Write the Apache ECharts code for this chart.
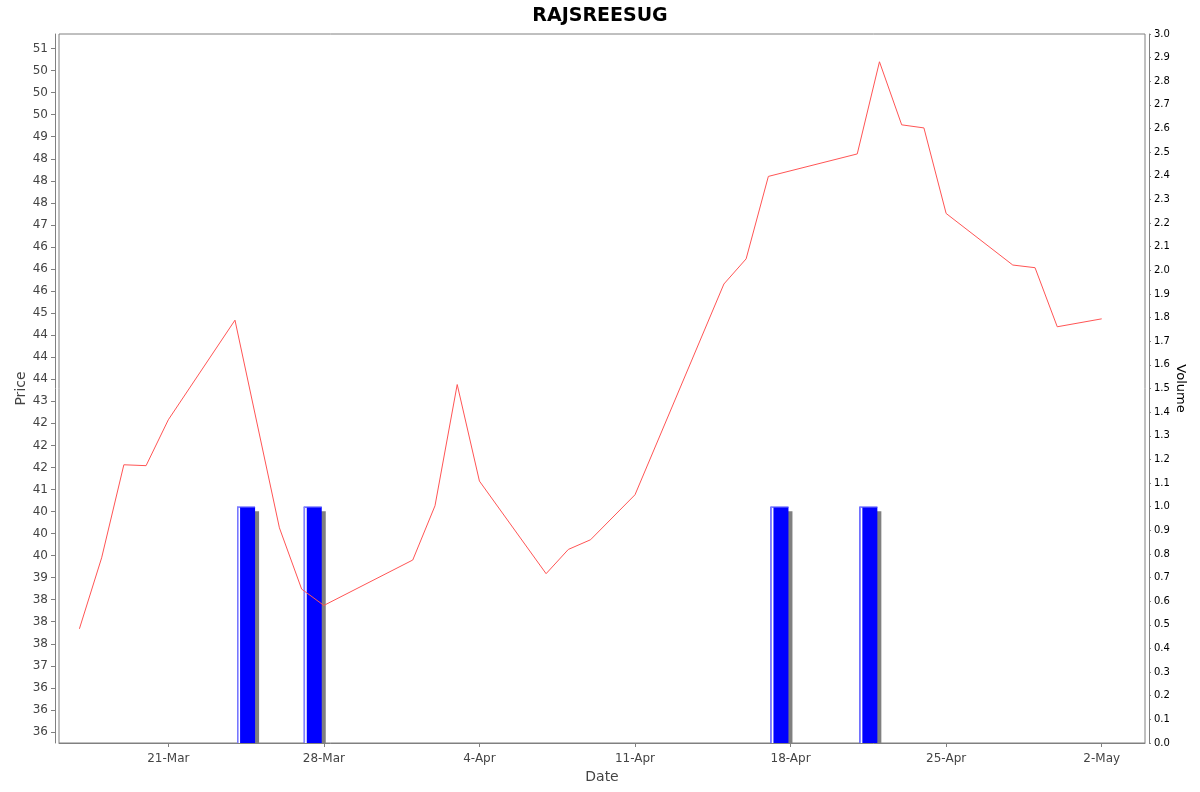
<!DOCTYPE html>
<html>
<head>
<meta charset="utf-8">
<script src="https://cdn.jsdelivr.net/npm/echarts@6/dist/echarts.min.js"></script>
<style>html,body{margin:0;padding:0;background:#fff}#c{width:1200px;height:792px}</style>
</head>
<body>
<div id="c"></div>
<script>
const priceDates = ['2025-03-17','2025-03-18','2025-03-19','2025-03-20','2025-03-21','2025-03-24','2025-03-26','2025-03-27','2025-03-28',
  '2025-04-01','2025-04-02','2025-04-03','2025-04-04','2025-04-07','2025-04-08','2025-04-09','2025-04-11',
  '2025-04-15','2025-04-16','2025-04-17','2025-04-21','2025-04-22','2025-04-23','2025-04-24','2025-04-25',
  '2025-04-28','2025-04-29','2025-04-30','2025-05-02'];
const priceValues = [37.84,39.45,41.56,41.54,42.58,44.84,40.13,38.74,38.37,
  39.40,40.63,43.38,41.19,39.09,39.64,39.86,40.88,
  45.66,46.23,48.10,48.61,50.70,49.27,49.20,47.26,
  46.09,46.03,44.69,44.87];
const volumeDates = ['2025-03-24','2025-03-27','2025-04-17','2025-04-21'];
const volumeValues = [1.0,1.0,1.0,1.0];
const priceTickValues = [35.5,36,36.5,37,37.5,38,38.5,39,39.5,40,40.5,41,41.5,42,42.5,43,43.5,44,44.5,45,45.5,46,46.5,47,47.5,48,48.5,49,49.5,50,50.5,51];
const priceTickLabels = ['36','36','36','37','38','38','38','39','40','40','40','41','42','42','42','43','44','44','44','45','46','46','46','47','48','48','48','49','50','50','50','51'];
const dateTickValues = ['2025-03-21','2025-03-28','2025-04-04','2025-04-11','2025-04-18','2025-04-25','2025-05-02'];
const dateTickLabels = ['21-Mar','28-Mar','4-Apr','11-Apr','18-Apr','25-Apr','2-May'];

const DAY = 86400000;
const ts = s => Date.parse(s + 'T00:00:00Z');
const dateTickTs = dateTickValues.map(ts);
const labelMap = {};
dateTickTs.forEach((t, i) => { labelMap[t] = dateTickLabels[i]; });
const priceLabelMap = {};
priceTickValues.forEach((v, i) => { priceLabelMap[v.toFixed(1)] = priceTickLabels[i]; });

const BAR_W = 18, SH = 4;
function renderVolume(params, api) {
  const x = api.value(0), v = api.value(1);
  const top = api.coord([x, v]);
  const bot = api.coord([x, 0]);
  const left = top[0] - BAR_W / 2;
  const h = bot[1] - top[1];
  return {type: 'group', children: [
    {type: 'rect', shape: {x: left + SH, y: top[1] + SH + 0.5, width: BAR_W, height: h - SH - 0.5}, style: {fill: '#808080'}},
    {type: 'rect', shape: {x: left, y: top[1], width: BAR_W, height: h}, style: {fill: '#0000ff'}},
    {type: 'rect', shape: {x: left, y: top[1], width: BAR_W, height: 1}, style: {fill: '#6060ff'}},
    {type: 'rect', shape: {x: left, y: top[1], width: 1.3, height: h}, style: {fill: '#8080ff'}},
    {type: 'rect', shape: {x: left + 1.3, y: top[1] + 1, width: 1.7, height: h - 1}, style: {fill: '#ffffff'}}
  ]};
}

const chart = echarts.init(document.getElementById('c'), null, {renderer: 'canvas'});
const FONT = 'DejaVu Sans';
chart.setOption({
  animation: false,
  backgroundColor: '#ffffff',
  title: {
    text: 'RAJSREESUG', left: 'center', top: 2,
    textStyle: {fontFamily: FONT, fontSize: 19, fontWeight: 'bold', color: '#000'}
  },
  grid: {left: 59, right: 55, top: 34, bottom: 49, containLabel: false, outerBoundsMode: 'none',
    show: true, borderColor: '#808080', borderWidth: 1, backgroundColor: '#fff'},
  xAxis: {
    type: 'value',
    min: ts('2025-03-21') - 4.918 * DAY,
    max: ts('2025-05-02') + 1.948 * DAY,
    offset: 4,
    name: 'Date', nameLocation: 'middle', nameGap: 23, nameMoveOverlap: false,
    nameTextStyle: {fontFamily: FONT, fontSize: 14, color: '#444'},
    axisLine: {show: true, lineStyle: {color: '#808080'}},
    axisTick: {show: true, length: 4, customValues: dateTickTs, lineStyle: {color: '#808080'}},
    axisLabel: {customValues: dateTickTs, margin: 6, fontFamily: FONT, fontSize: 12, color: '#444',
      formatter: v => labelMap[v] || ''},
    splitLine: {show: false}
  },
  yAxis: [{
    type: 'value', position: 'left',
    min: 35.25, max: 51.33, offset: 4,
    name: 'Price', nameLocation: 'middle', nameGap: 27, nameRotate: 90, nameMoveOverlap: false,
    nameTextStyle: {fontFamily: FONT, fontSize: 14, color: '#444'},
    axisLine: {show: true, lineStyle: {color: '#808080'}},
    axisTick: {show: true, length: 4, customValues: priceTickValues, lineStyle: {color: '#808080'}},
    axisLabel: {customValues: priceTickValues, margin: 7, fontFamily: FONT, fontSize: 12, color: '#444',
      formatter: v => priceLabelMap[Number(v).toFixed(1)] || ''},
    splitLine: {show: false}
  }, {
    type: 'value', position: 'right',
    min: 0, max: 3, interval: 0.1, offset: 4,
    name: 'Volume', nameLocation: 'middle', nameGap: 25, nameRotate: -90, nameMoveOverlap: false,
    nameTextStyle: {fontFamily: FONT, fontSize: 13, color: '#000'},
    axisLine: {show: true, lineStyle: {color: '#808080'}},
    axisTick: {show: true, length: 2, lineStyle: {color: '#808080'}},
    axisLabel: {margin: 5, fontFamily: FONT, fontSize: 10, color: '#000', showMinLabel: true, showMaxLabel: true,
      formatter: v => Number(v).toFixed(1)},
    splitLine: {show: false}
  }],
  series: [{
    type: 'custom', yAxisIndex: 1, z: 2,
    renderItem: renderVolume,
    encode: {x: 0, y: 1},
    data: volumeDates.map((d, i) => [ts(d) + DAY / 2, volumeValues[i]])
  }, {
    type: 'line', yAxisIndex: 0, z: 3,
    data: priceDates.map((d, i) => [ts(d), priceValues[i]]),
    showSymbol: false, symbol: 'none',
    lineStyle: {color: '#ff5555', width: 1}
  }]
});
</script>
</body>
</html>
